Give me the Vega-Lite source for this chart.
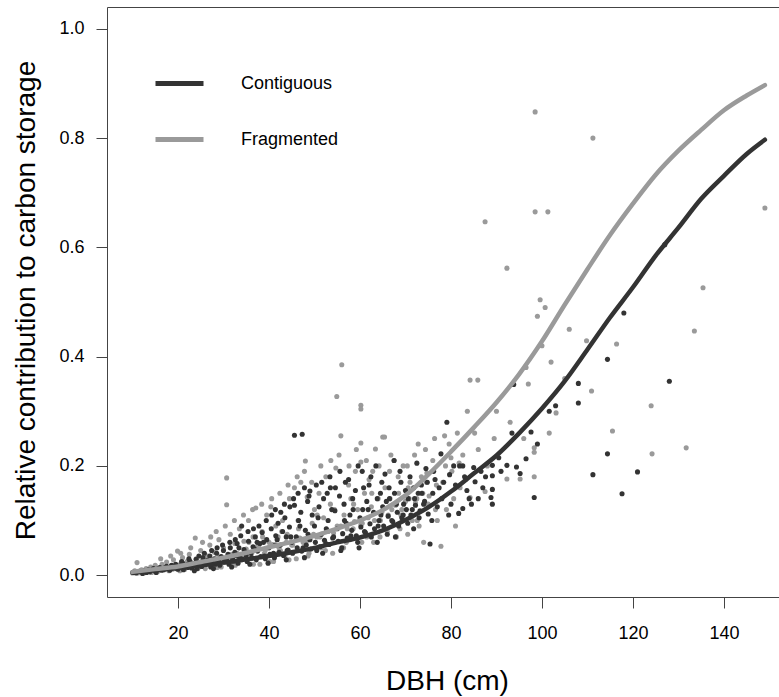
{
"$schema": "https://vega.github.io/schema/vega-lite/v6.json",
"width": 672, "height": 590,
"autosize": "none",
"padding": {"left": 107, "top": 7, "right": 0, "bottom": 100},
"config": {"view": {"stroke": null}, "font": "Liberation Sans", "background": "white"},
"datasets": {
"fit": [
{"x":10,"y":0.005,"g":"C"},{"x":15,"y":0.009,"g":"C"},{"x":20,"y":0.013,"g":"C"},{"x":25,"y":0.018,"g":"C"},{"x":30,"y":0.023,"g":"C"},{"x":35,"y":0.029,"g":"C"},{"x":40,"y":0.035,"g":"C"},{"x":45,"y":0.042,"g":"C"},{"x":50,"y":0.050,"g":"C"},{"x":55,"y":0.060,"g":"C"},{"x":60,"y":0.069,"g":"C"},{"x":65,"y":0.082,"g":"C"},{"x":70,"y":0.101,"g":"C"},{"x":75,"y":0.124,"g":"C"},{"x":80,"y":0.153,"g":"C"},{"x":85,"y":0.186,"g":"C"},{"x":90,"y":0.219,"g":"C"},{"x":95,"y":0.260,"g":"C"},{"x":100,"y":0.305,"g":"C"},{"x":105,"y":0.355,"g":"C"},{"x":110,"y":0.413,"g":"C"},{"x":115,"y":0.472,"g":"C"},{"x":120,"y":0.527,"g":"C"},{"x":125,"y":0.585,"g":"C"},{"x":130,"y":0.636,"g":"C"},{"x":135,"y":0.689,"g":"C"},{"x":140,"y":0.731,"g":"C"},{"x":145,"y":0.771,"g":"C"},{"x":149,"y":0.797,"g":"C"},
{"x":10,"y":0.006,"g":"F"},{"x":15,"y":0.011,"g":"F"},{"x":20,"y":0.016,"g":"F"},{"x":25,"y":0.024,"g":"F"},{"x":30,"y":0.032,"g":"F"},{"x":35,"y":0.041,"g":"F"},{"x":40,"y":0.051,"g":"F"},{"x":45,"y":0.061,"g":"F"},{"x":50,"y":0.072,"g":"F"},{"x":55,"y":0.085,"g":"F"},{"x":60,"y":0.100,"g":"F"},{"x":65,"y":0.119,"g":"F"},{"x":70,"y":0.146,"g":"F"},{"x":75,"y":0.184,"g":"F"},{"x":80,"y":0.226,"g":"F"},{"x":85,"y":0.270,"g":"F"},{"x":90,"y":0.316,"g":"F"},{"x":95,"y":0.368,"g":"F"},{"x":100,"y":0.428,"g":"F"},{"x":105,"y":0.495,"g":"F"},{"x":110,"y":0.560,"g":"F"},{"x":115,"y":0.623,"g":"F"},{"x":120,"y":0.680,"g":"F"},{"x":125,"y":0.733,"g":"F"},{"x":130,"y":0.777,"g":"F"},{"x":135,"y":0.815,"g":"F"},{"x":140,"y":0.851,"g":"F"},{"x":145,"y":0.878,"g":"F"},{"x":149,"y":0.897,"g":"F"}
],
"pts": [
{"x":10,"y":0.004,"g":"F"},{"x":10.5,"y":0.008,"g":"F"},{"x":11,"y":0.023,"g":"F"},{"x":11.5,"y":0.006,"g":"F"},{"x":12,"y":0.01,"g":"F"},{"x":12.5,"y":0.004,"g":"F"},{"x":13,"y":0.012,"g":"F"},{"x":13.5,"y":0.007,"g":"F"},{"x":14,"y":0.015,"g":"F"},{"x":14.5,"y":0.009,"g":"F"},{"x":15,"y":0.018,"g":"F"},{"x":15.5,"y":0.006,"g":"F"},{"x":16,"y":0.013,"g":"F"},{"x":16.5,"y":0.02,"g":"F"},{"x":17,"y":0.01,"g":"F"},{"x":17.5,"y":0.024,"g":"F"},{"x":18,"y":0.008,"g":"F"},{"x":18.5,"y":0.017,"g":"F"},{"x":19,"y":0.028,"g":"F"},{"x":19.5,"y":0.012,"g":"F"},{"x":19.9,"y":0.044,"g":"F"},{"x":20.5,"y":0.02,"g":"F"},{"x":21,"y":0.032,"g":"F"},{"x":21.5,"y":0.011,"g":"F"},{"x":22,"y":0.025,"g":"F"},{"x":22.5,"y":0.038,"g":"F"},{"x":23,"y":0.015,"g":"F"},{"x":23.8,"y":0.068,"g":"F"},{"x":24,"y":0.03,"g":"F"},{"x":24.5,"y":0.018,"g":"F"},{"x":25,"y":0.045,"g":"F"},{"x":25.5,"y":0.025,"g":"F"},{"x":26,"y":0.012,"g":"F"},{"x":26.5,"y":0.035,"g":"F"},{"x":27,"y":0.055,"g":"F"},{"x":27.5,"y":0.02,"g":"F"},{"x":28,"y":0.042,"g":"F"},{"x":28.5,"y":0.03,"g":"F"},{"x":29,"y":0.065,"g":"F"},{"x":29.5,"y":0.015,"g":"F"},{"x":30,"y":0.05,"g":"F"},{"x":30.7,"y":0.178,"g":"F"},{"x":30.7,"y":0.129,"g":"F"},{"x":31,"y":0.035,"g":"F"},{"x":31.5,"y":0.075,"g":"F"},{"x":32,"y":0.022,"g":"F"},{"x":32.5,"y":0.058,"g":"F"},{"x":33,"y":0.04,"g":"F"},{"x":33.5,"y":0.085,"g":"F"},{"x":34,"y":0.028,"g":"F"},{"x":34.5,"y":0.062,"g":"F"},{"x":35,"y":0.048,"g":"F"},{"x":35.5,"y":0.1,"g":"F"},{"x":36,"y":0.03,"g":"F"},{"x":36.5,"y":0.07,"g":"F"},{"x":37.1,"y":0.123,"g":"F"},{"x":37.5,"y":0.052,"g":"F"},{"x":38,"y":0.02,"g":"F"},{"x":38.5,"y":0.08,"g":"F"},{"x":39,"y":0.04,"g":"F"},{"x":39.5,"y":0.11,"g":"F"},{"x":40,"y":0.06,"g":"F"},{"x":40.4,"y":0.125,"g":"F"},{"x":41,"y":0.025,"g":"F"},{"x":41.5,"y":0.09,"g":"F"},{"x":42,"y":0.07,"g":"F"},{"x":42.5,"y":0.045,"g":"F"},{"x":43,"y":0.1,"g":"F"},{"x":43.5,"y":0.035,"g":"F"},{"x":44,"y":0.075,"g":"F"},{"x":44.5,"y":0.14,"g":"F"},{"x":45,"y":0.055,"g":"F"},{"x":45.6,"y":0.16,"g":"F"},{"x":46,"y":0.03,"g":"F"},{"x":46.5,"y":0.085,"g":"F"},{"x":47,"y":0.17,"g":"F"},{"x":47.5,"y":0.06,"g":"F"},{"x":48,"y":0.209,"g":"F"},{"x":48.4,"y":0.143,"g":"F"},{"x":48.8,"y":0.04,"g":"F"},{"x":49.5,"y":0.095,"g":"F"},{"x":50,"y":0.12,"g":"F"},{"x":50.5,"y":0.07,"g":"F"},{"x":51,"y":0.15,"g":"F"},{"x":51.5,"y":0.05,"g":"F"},{"x":52,"y":0.105,"g":"F"},{"x":52.5,"y":0.18,"g":"F"},{"x":53,"y":0.08,"g":"F"},{"x":53.5,"y":0.13,"g":"F"},{"x":54,"y":0.04,"g":"F"},{"x":54.7,"y":0.196,"g":"F"},{"x":54.9,"y":0.327,"g":"F"},{"x":55,"y":0.09,"g":"F"},{"x":55.8,"y":0.255,"g":"F"},{"x":56,"y":0.385,"g":"F"},{"x":56.5,"y":0.11,"g":"F"},{"x":57,"y":0.06,"g":"F"},{"x":57.5,"y":0.165,"g":"F"},{"x":58,"y":0.14,"g":"F"},{"x":58.5,"y":0.085,"g":"F"},{"x":59,"y":0.19,"g":"F"},{"x":59.5,"y":0.12,"g":"F"},{"x":60.2,"y":0.311,"g":"F"},{"x":60.2,"y":0.304,"g":"F"},{"x":60.2,"y":0.242,"g":"F"},{"x":60.2,"y":0.207,"g":"F"},{"x":60.5,"y":0.095,"g":"F"},{"x":61,"y":0.15,"g":"F"},{"x":61.5,"y":0.07,"g":"F"},{"x":62,"y":0.175,"g":"F"},{"x":62.5,"y":0.125,"g":"F"},{"x":63,"y":0.06,"g":"F"},{"x":63.4,"y":0.231,"g":"F"},{"x":64,"y":0.14,"g":"F"},{"x":64.5,"y":0.1,"g":"F"},{"x":65,"y":0.253,"g":"F"},{"x":65.4,"y":0.253,"g":"F"},{"x":65.5,"y":0.16,"g":"F"},{"x":66,"y":0.08,"g":"F"},{"x":66.5,"y":0.19,"g":"F"},{"x":67,"y":0.12,"g":"F"},{"x":67.5,"y":0.21,"g":"F"},{"x":68,"y":0.07,"g":"F"},{"x":68.5,"y":0.15,"g":"F"},{"x":69,"y":0.11,"g":"F"},{"x":69.5,"y":0.2,"g":"F"},{"x":70,"y":0.135,"g":"F"},{"x":70.5,"y":0.075,"g":"F"},{"x":71,"y":0.17,"g":"F"},{"x":71.5,"y":0.1,"g":"F"},{"x":72,"y":0.22,"g":"F"},{"x":72.5,"y":0.14,"g":"F"},{"x":73,"y":0.09,"g":"F"},{"x":73.5,"y":0.18,"g":"F"},{"x":74,"y":0.06,"g":"F"},{"x":74.7,"y":0.187,"g":"F"},{"x":75,"y":0.13,"g":"F"},{"x":76,"y":0.21,"g":"F"},{"x":77,"y":0.1,"g":"F"},{"x":77.8,"y":0.053,"g":"F"},{"x":78.6,"y":0.255,"g":"F"},{"x":79,"y":0.12,"g":"F"},{"x":80,"y":0.215,"g":"F"},{"x":81,"y":0.09,"g":"F"},{"x":82,"y":0.16,"g":"F"},{"x":84.2,"y":0.357,"g":"F"},{"x":85.9,"y":0.357,"g":"F"},{"x":84.2,"y":0.142,"g":"F"},{"x":86,"y":0.23,"g":"F"},{"x":87.5,"y":0.153,"g":"F"},{"x":87.5,"y":0.647,"g":"F"},{"x":88,"y":0.2,"g":"F"},{"x":89.5,"y":0.25,"g":"F"},{"x":92.3,"y":0.562,"g":"F"},{"x":92.3,"y":0.176,"g":"F"},{"x":95.2,"y":0.176,"g":"F"},{"x":96,"y":0.25,"g":"F"},{"x":97,"y":0.35,"g":"F"},{"x":98.3,"y":0.18,"g":"F"},{"x":98.3,"y":0.233,"g":"F"},{"x":98.3,"y":0.225,"g":"F"},{"x":98.5,"y":0.848,"g":"F"},{"x":98.5,"y":0.665,"g":"F"},{"x":99,"y":0.474,"g":"F"},{"x":99.6,"y":0.504,"g":"F"},{"x":100.7,"y":0.49,"g":"F"},{"x":101.3,"y":0.665,"g":"F"},{"x":101.6,"y":0.26,"g":"F"},{"x":103.1,"y":0.297,"g":"F"},{"x":105,"y":0.36,"g":"F"},{"x":109.8,"y":0.429,"g":"F"},{"x":110.9,"y":0.337,"g":"F"},{"x":111.2,"y":0.8,"g":"F"},{"x":115.5,"y":0.264,"g":"F"},{"x":116.4,"y":0.423,"g":"F"},{"x":124,"y":0.31,"g":"F"},{"x":124.2,"y":0.222,"g":"F"},{"x":131.7,"y":0.233,"g":"F"},{"x":133.5,"y":0.447,"g":"F"},{"x":135.4,"y":0.526,"g":"F"},{"x":149,"y":0.672,"g":"F"},
{"x":11.2,"y":0.004,"g":"F"},{"x":12.8,"y":0.007,"g":"F"},{"x":14.2,"y":0.005,"g":"F"},{"x":15.8,"y":0.01,"g":"F"},{"x":17.2,"y":0.013,"g":"F"},{"x":18.8,"y":0.011,"g":"F"},{"x":20.2,"y":0.015,"g":"F"},{"x":21.8,"y":0.018,"g":"F"},{"x":23.2,"y":0.022,"g":"F"},{"x":24.8,"y":0.019,"g":"F"},{"x":26.2,"y":0.027,"g":"F"},{"x":27.8,"y":0.024,"g":"F"},{"x":29.2,"y":0.033,"g":"F"},{"x":30.2,"y":0.028,"g":"F"},{"x":31.8,"y":0.038,"g":"F"},{"x":33.2,"y":0.034,"g":"F"},{"x":34.8,"y":0.045,"g":"F"},{"x":36.2,"y":0.04,"g":"F"},{"x":37.8,"y":0.05,"g":"F"},{"x":39.2,"y":0.046,"g":"F"},{"x":40.8,"y":0.056,"g":"F"},{"x":42.2,"y":0.05,"g":"F"},{"x":43.8,"y":0.06,"g":"F"},{"x":45.2,"y":0.055,"g":"F"},{"x":46.8,"y":0.068,"g":"F"},{"x":48.2,"y":0.062,"g":"F"},{"x":49.8,"y":0.075,"g":"F"},{"x":51.2,"y":0.07,"g":"F"},{"x":52.8,"y":0.082,"g":"F"},{"x":54.2,"y":0.077,"g":"F"},{"x":55.8,"y":0.09,"g":"F"},{"x":57.2,"y":0.085,"g":"F"},{"x":58.8,"y":0.098,"g":"F"},{"x":60.2,"y":0.092,"g":"F"},{"x":61.8,"y":0.105,"g":"F"},{"x":63.2,"y":0.1,"g":"F"},{"x":64.8,"y":0.115,"g":"F"},{"x":66.2,"y":0.11,"g":"F"},{"x":67.8,"y":0.128,"g":"F"},{"x":69.2,"y":0.12,"g":"F"},{"x":70.8,"y":0.14,"g":"F"},{"x":72.2,"y":0.132,"g":"F"},{"x":73.8,"y":0.15,"g":"F"},{"x":75.2,"y":0.145,"g":"F"},{"x":76.8,"y":0.165,"g":"F"},{"x":78.2,"y":0.17,"g":"F"},{"x":80.2,"y":0.19,"g":"F"},{"x":81.8,"y":0.205,"g":"F"},{"x":83.2,"y":0.175,"g":"F"},{"x":85.2,"y":0.26,"g":"F"},{"x":90,"y":0.3,"g":"F"},{"x":93,"y":0.28,"g":"F"},{"x":96.5,"y":0.38,"g":"F"},{"x":100,"y":0.42,"g":"F"},{"x":102,"y":0.39,"g":"F"},{"x":106,"y":0.45,"g":"F"},
{"x":16.2,"y":0.03,"g":"F"},{"x":18.4,"y":0.035,"g":"F"},{"x":20.6,"y":0.04,"g":"F"},{"x":22.8,"y":0.05,"g":"F"},{"x":25.4,"y":0.06,"g":"F"},{"x":27.2,"y":0.07,"g":"F"},{"x":28.4,"y":0.08,"g":"F"},{"x":30.4,"y":0.09,"g":"F"},{"x":32.4,"y":0.1,"g":"F"},{"x":34.4,"y":0.11,"g":"F"},{"x":36.4,"y":0.12,"g":"F"},{"x":38.4,"y":0.13,"g":"F"},{"x":40.6,"y":0.14,"g":"F"},{"x":42.4,"y":0.15,"g":"F"},{"x":44.2,"y":0.165,"g":"F"},{"x":46.2,"y":0.18,"g":"F"},{"x":47.8,"y":0.19,"g":"F"},{"x":49.4,"y":0.17,"g":"F"},{"x":51.4,"y":0.2,"g":"F"},{"x":53.6,"y":0.21,"g":"F"},{"x":55.4,"y":0.22,"g":"F"},{"x":57.6,"y":0.2,"g":"F"},{"x":59.2,"y":0.23,"g":"F"},{"x":61.4,"y":0.21,"g":"F"},{"x":62.8,"y":0.19,"g":"F"},{"x":64.2,"y":0.2,"g":"F"},{"x":66.8,"y":0.22,"g":"F"},{"x":68.4,"y":0.18,"g":"F"},{"x":70.4,"y":0.2,"g":"F"},{"x":72.8,"y":0.24,"g":"F"},{"x":74.4,"y":0.23,"g":"F"},{"x":76.4,"y":0.25,"g":"F"},{"x":79.6,"y":0.24,"g":"F"},{"x":81.4,"y":0.26,"g":"F"},{"x":83.6,"y":0.3,"g":"F"},{"x":20.4,"y":0.008,"g":"F"},{"x":24.4,"y":0.012,"g":"F"},{"x":28.6,"y":0.014,"g":"F"},{"x":32.6,"y":0.018,"g":"F"},{"x":36.6,"y":0.02,"g":"F"},{"x":40.2,"y":0.025,"g":"F"},{"x":44.4,"y":0.028,"g":"F"},{"x":48.6,"y":0.035,"g":"F"},{"x":52.4,"y":0.045,"g":"F"},{"x":56.4,"y":0.05,"g":"F"},{"x":60.4,"y":0.06,"g":"F"},{"x":64.4,"y":0.07,"g":"F"},{"x":68.8,"y":0.085,"g":"F"},{"x":72.6,"y":0.1,"g":"F"},{"x":76.6,"y":0.12,"g":"F"},{"x":80.6,"y":0.14,"g":"F"},{"x":35.6,"y":0.06,"g":"F"},{"x":38.6,"y":0.07,"g":"F"},{"x":42.8,"y":0.08,"g":"F"},{"x":46.4,"y":0.1,"g":"F"},{"x":50.6,"y":0.11,"g":"F"},{"x":54.4,"y":0.12,"g":"F"},{"x":58.6,"y":0.13,"g":"F"},{"x":62.6,"y":0.15,"g":"F"},{"x":66.6,"y":0.14,"g":"F"},{"x":70.6,"y":0.16,"g":"F"},{"x":74.6,"y":0.17,"g":"F"},{"x":78.8,"y":0.2,"g":"F"},{"x":82.6,"y":0.22,"g":"F"},
{"x":10.2,"y":0.005,"g":"C"},{"x":10.8,"y":0.004,"g":"C"},{"x":11.5,"y":0.007,"g":"C"},{"x":12,"y":0.006,"g":"C"},{"x":12.6,"y":0.008,"g":"C"},{"x":13.1,"y":0.005,"g":"C"},{"x":13.5,"y":0.01,"g":"C"},{"x":14,"y":0.009,"g":"C"},{"x":14.6,"y":0.012,"g":"C"},{"x":15,"y":0.008,"g":"C"},{"x":15.5,"y":0.011,"g":"C"},{"x":16,"y":0.014,"g":"C"},{"x":16.4,"y":0.009,"g":"C"},{"x":17,"y":0.013,"g":"C"},{"x":17.5,"y":0.016,"g":"C"},{"x":18,"y":0.012,"g":"C"},{"x":18.6,"y":0.018,"g":"C"},{"x":19,"y":0.014,"g":"C"},{"x":19.5,"y":0.02,"g":"C"},{"x":20,"y":0.011,"g":"C"},{"x":20.5,"y":0.017,"g":"C"},{"x":21,"y":0.022,"g":"C"},{"x":21.5,"y":0.015,"g":"C"},{"x":22,"y":0.019,"g":"C"},{"x":22.6,"y":0.026,"g":"C"},{"x":23,"y":0.013,"g":"C"},{"x":23.5,"y":0.021,"g":"C"},{"x":24,"y":0.029,"g":"C"},{"x":24.5,"y":0.018,"g":"C"},{"x":25,"y":0.024,"g":"C"},{"x":25.5,"y":0.032,"g":"C"},{"x":26,"y":0.02,"g":"C"},{"x":26.5,"y":0.027,"g":"C"},{"x":27,"y":0.035,"g":"C"},{"x":27.5,"y":0.022,"g":"C"},{"x":28,"y":0.03,"g":"C"},{"x":28.5,"y":0.04,"g":"C"},{"x":29,"y":0.025,"g":"C"},{"x":29.5,"y":0.034,"g":"C"},{"x":30,"y":0.045,"g":"C"},{"x":30.5,"y":0.028,"g":"C"},{"x":31,"y":0.038,"g":"C"},{"x":31.5,"y":0.05,"g":"C"},{"x":32,"y":0.03,"g":"C"},{"x":32.5,"y":0.042,"g":"C"},{"x":33,"y":0.058,"g":"C"},{"x":33.5,"y":0.033,"g":"C"},{"x":34,"y":0.09,"g":"C"},{"x":34.5,"y":0.047,"g":"C"},{"x":35,"y":0.036,"g":"C"},{"x":35.5,"y":0.062,"g":"C"},{"x":36,"y":0.04,"g":"C"},{"x":36.5,"y":0.052,"g":"C"},{"x":37,"y":0.07,"g":"C"},{"x":37.5,"y":0.044,"g":"C"},{"x":38,"y":0.058,"g":"C"},{"x":38.5,"y":0.078,"g":"C"},{"x":39,"y":0.035,"g":"C"},{"x":39.5,"y":0.065,"g":"C"},{"x":40,"y":0.05,"g":"C"},{"x":40.5,"y":0.085,"g":"C"},{"x":41,"y":0.04,"g":"C"},{"x":41.5,"y":0.072,"g":"C"},{"x":42,"y":0.095,"g":"C"},{"x":42.5,"y":0.055,"g":"C"},{"x":43,"y":0.08,"g":"C"},{"x":43.5,"y":0.105,"g":"C"},{"x":44,"y":0.045,"g":"C"},{"x":44.5,"y":0.088,"g":"C"},{"x":45,"y":0.06,"g":"C"},{"x":45.6,"y":0.128,"g":"C"},{"x":45.6,"y":0.256,"g":"C"},{"x":46,"y":0.07,"g":"C"},{"x":46.5,"y":0.1,"g":"C"},{"x":47,"y":0.115,"g":"C"},{"x":47.3,"y":0.258,"g":"C"},{"x":47.5,"y":0.05,"g":"C"},{"x":48,"y":0.082,"g":"C"},{"x":48.5,"y":0.135,"g":"C"},{"x":49,"y":0.154,"g":"C"},{"x":49,"y":0.065,"g":"C"},{"x":49.5,"y":0.11,"g":"C"},{"x":50,"y":0.09,"g":"C"},{"x":50.5,"y":0.045,"g":"C"},{"x":51,"y":0.125,"g":"C"},{"x":51.5,"y":0.075,"g":"C"},{"x":52,"y":0.14,"g":"C"},{"x":52.5,"y":0.058,"g":"C"},{"x":53,"y":0.1,"g":"C"},{"x":53.5,"y":0.16,"g":"C"},{"x":54,"y":0.068,"g":"C"},{"x":54.5,"y":0.118,"g":"C"},{"x":55,"y":0.085,"g":"C"},{"x":55.5,"y":0.145,"g":"C"},{"x":56,"y":0.05,"g":"C"},{"x":56.5,"y":0.13,"g":"C"},{"x":57,"y":0.095,"g":"C"},{"x":57.5,"y":0.175,"g":"C"},{"x":58,"y":0.072,"g":"C"},{"x":58.5,"y":0.12,"g":"C"},{"x":59,"y":0.155,"g":"C"},{"x":59.5,"y":0.06,"g":"C"},{"x":60,"y":0.105,"g":"C"},{"x":60.5,"y":0.19,"g":"C"},{"x":61,"y":0.08,"g":"C"},{"x":61.5,"y":0.135,"g":"C"},{"x":62,"y":0.165,"g":"C"},{"x":62.5,"y":0.07,"g":"C"},{"x":63,"y":0.115,"g":"C"},{"x":63.5,"y":0.2,"g":"C"},{"x":64,"y":0.09,"g":"C"},{"x":64.5,"y":0.15,"g":"C"},{"x":65,"y":0.125,"g":"C"},{"x":65.5,"y":0.185,"g":"C"},{"x":66,"y":0.075,"g":"C"},{"x":66.5,"y":0.14,"g":"C"},{"x":67,"y":0.1,"g":"C"},{"x":67.5,"y":0.21,"g":"C"},{"x":68,"y":0.13,"g":"C"},{"x":68.5,"y":0.09,"g":"C"},{"x":69,"y":0.17,"g":"C"},{"x":69.5,"y":0.11,"g":"C"},{"x":70,"y":0.155,"g":"C"},{"x":70.5,"y":0.095,"g":"C"},{"x":71,"y":0.18,"g":"C"},{"x":71.5,"y":0.12,"g":"C"},{"x":72,"y":0.14,"g":"C"},{"x":72.5,"y":0.205,"g":"C"},{"x":73,"y":0.105,"g":"C"},{"x":73.5,"y":0.165,"g":"C"},{"x":74,"y":0.13,"g":"C"},{"x":74.5,"y":0.195,"g":"C"},{"x":75,"y":0.112,"g":"C"},{"x":75.4,"y":0.057,"g":"C"},{"x":76,"y":0.15,"g":"C"},{"x":76.5,"y":0.175,"g":"C"},{"x":77,"y":0.125,"g":"C"},{"x":77.8,"y":0.222,"g":"C"},{"x":78,"y":0.14,"g":"C"},{"x":79.1,"y":0.28,"g":"C"},{"x":79.7,"y":0.184,"g":"C"},{"x":80,"y":0.13,"g":"C"},{"x":81,"y":0.165,"g":"C"},{"x":81.7,"y":0.113,"g":"C"},{"x":81.9,"y":0.2,"g":"C"},{"x":82.6,"y":0.2,"g":"C"},{"x":82.6,"y":0.122,"g":"C"},{"x":83.5,"y":0.155,"g":"C"},{"x":85,"y":0.197,"g":"C"},{"x":85.3,"y":0.171,"g":"C"},{"x":86,"y":0.14,"g":"C"},{"x":87,"y":0.16,"g":"C"},{"x":89.1,"y":0.182,"g":"C"},{"x":89.1,"y":0.157,"g":"C"},{"x":89.1,"y":0.13,"g":"C"},{"x":88.8,"y":0.142,"g":"C"},{"x":89.1,"y":0.201,"g":"C"},{"x":90.5,"y":0.215,"g":"C"},{"x":92.3,"y":0.201,"g":"C"},{"x":93.4,"y":0.26,"g":"C"},{"x":93.8,"y":0.349,"g":"C"},{"x":94.4,"y":0.198,"g":"C"},{"x":95.2,"y":0.186,"g":"C"},{"x":96.5,"y":0.213,"g":"C"},{"x":97.6,"y":0.262,"g":"C"},{"x":98.3,"y":0.142,"g":"C"},{"x":99,"y":0.24,"g":"C"},{"x":101.6,"y":0.3,"g":"C"},{"x":103,"y":0.31,"g":"C"},{"x":108,"y":0.351,"g":"C"},{"x":108,"y":0.315,"g":"C"},{"x":111.2,"y":0.184,"g":"C"},{"x":114.4,"y":0.395,"g":"C"},{"x":114.4,"y":0.222,"g":"C"},{"x":117.6,"y":0.149,"g":"C"},{"x":118,"y":0.48,"g":"C"},{"x":121,"y":0.189,"g":"C"},{"x":127,"y":0.605,"g":"C"},{"x":128,"y":0.355,"g":"C"},
{"x":12.2,"y":0.003,"g":"C"},{"x":13.8,"y":0.006,"g":"C"},{"x":15.2,"y":0.005,"g":"C"},{"x":16.8,"y":0.01,"g":"C"},{"x":18.2,"y":0.009,"g":"C"},{"x":19.8,"y":0.012,"g":"C"},{"x":21.2,"y":0.01,"g":"C"},{"x":22.2,"y":0.014,"g":"C"},{"x":23.2,"y":0.018,"g":"C"},{"x":24.2,"y":0.012,"g":"C"},{"x":25.2,"y":0.016,"g":"C"},{"x":26.2,"y":0.022,"g":"C"},{"x":27.2,"y":0.015,"g":"C"},{"x":28.2,"y":0.02,"g":"C"},{"x":29.2,"y":0.018,"g":"C"},{"x":30.2,"y":0.024,"g":"C"},{"x":31.2,"y":0.02,"g":"C"},{"x":32.2,"y":0.026,"g":"C"},{"x":33.2,"y":0.022,"g":"C"},{"x":34.2,"y":0.03,"g":"C"},{"x":35.2,"y":0.025,"g":"C"},{"x":36.2,"y":0.032,"g":"C"},{"x":37.2,"y":0.028,"g":"C"},{"x":38.2,"y":0.034,"g":"C"},{"x":39.2,"y":0.03,"g":"C"},{"x":40.2,"y":0.038,"g":"C"},{"x":41.2,"y":0.032,"g":"C"},{"x":42.2,"y":0.042,"g":"C"},{"x":43.2,"y":0.036,"g":"C"},{"x":44.2,"y":0.046,"g":"C"},{"x":45.2,"y":0.04,"g":"C"},{"x":46.2,"y":0.05,"g":"C"},{"x":47.2,"y":0.044,"g":"C"},{"x":48.2,"y":0.055,"g":"C"},{"x":49.2,"y":0.048,"g":"C"},{"x":50.2,"y":0.06,"g":"C"},{"x":51.2,"y":0.052,"g":"C"},{"x":52.2,"y":0.064,"g":"C"},{"x":53.2,"y":0.056,"g":"C"},{"x":54.2,"y":0.07,"g":"C"},{"x":55.2,"y":0.062,"g":"C"},{"x":56.2,"y":0.076,"g":"C"},{"x":57.2,"y":0.068,"g":"C"},{"x":58.2,"y":0.082,"g":"C"},{"x":59.2,"y":0.072,"g":"C"},{"x":60.2,"y":0.088,"g":"C"},{"x":61.2,"y":0.078,"g":"C"},{"x":62.2,"y":0.094,"g":"C"},{"x":63.2,"y":0.085,"g":"C"},{"x":64.2,"y":0.1,"g":"C"},{"x":65.2,"y":0.09,"g":"C"},{"x":66.2,"y":0.108,"g":"C"},{"x":67.2,"y":0.098,"g":"C"},{"x":68.2,"y":0.115,"g":"C"},{"x":69.2,"y":0.105,"g":"C"},{"x":70.2,"y":0.12,"g":"C"},{"x":71.2,"y":0.11,"g":"C"},{"x":72.2,"y":0.128,"g":"C"},{"x":73.2,"y":0.118,"g":"C"},{"x":74.2,"y":0.135,"g":"C"},{"x":41.8,"y":0.065,"g":"C"},{"x":43.8,"y":0.07,"g":"C"},{"x":46.8,"y":0.09,"g":"C"},{"x":50.8,"y":0.105,"g":"C"},{"x":53.8,"y":0.12,"g":"C"},{"x":57.8,"y":0.11,"g":"C"},{"x":61.8,"y":0.12,"g":"C"},{"x":65.8,"y":0.135,"g":"C"},{"x":38.8,"y":0.06,"g":"C"},{"x":36.8,"y":0.048,"g":"C"},{"x":34.8,"y":0.042,"g":"C"},{"x":32.8,"y":0.036,"g":"C"},{"x":30.8,"y":0.032,"g":"C"},{"x":28.8,"y":0.027,"g":"C"},{"x":26.8,"y":0.024,"g":"C"},{"x":24.8,"y":0.02,"g":"C"},{"x":22.8,"y":0.016,"g":"C"},
{"x":20.8,"y":0.025,"g":"C"},{"x":22.4,"y":0.03,"g":"C"},{"x":24.6,"y":0.035,"g":"C"},{"x":25.8,"y":0.04,"g":"C"},{"x":27.4,"y":0.045,"g":"C"},{"x":28.6,"y":0.05,"g":"C"},{"x":29.8,"y":0.055,"g":"C"},{"x":31.4,"y":0.06,"g":"C"},{"x":32.6,"y":0.065,"g":"C"},{"x":33.8,"y":0.072,"g":"C"},{"x":35.4,"y":0.08,"g":"C"},{"x":36.6,"y":0.085,"g":"C"},{"x":37.8,"y":0.09,"g":"C"},{"x":39.4,"y":0.1,"g":"C"},{"x":40.6,"y":0.11,"g":"C"},{"x":41.4,"y":0.12,"g":"C"},{"x":42.6,"y":0.115,"g":"C"},{"x":43.4,"y":0.13,"g":"C"},{"x":44.6,"y":0.125,"g":"C"},{"x":45.4,"y":0.14,"g":"C"},{"x":46.4,"y":0.15,"g":"C"},{"x":47.8,"y":0.16,"g":"C"},{"x":48.8,"y":0.145,"g":"C"},{"x":50.4,"y":0.165,"g":"C"},{"x":51.6,"y":0.17,"g":"C"},{"x":52.8,"y":0.15,"g":"C"},{"x":53.4,"y":0.18,"g":"C"},{"x":54.6,"y":0.16,"g":"C"},{"x":55.6,"y":0.19,"g":"C"},{"x":56.8,"y":0.17,"g":"C"},{"x":58.4,"y":0.14,"g":"C"},{"x":59.6,"y":0.2,"g":"C"},{"x":60.8,"y":0.16,"g":"C"},{"x":62.4,"y":0.18,"g":"C"},{"x":63.8,"y":0.14,"g":"C"},{"x":64.8,"y":0.17,"g":"C"},{"x":66.4,"y":0.16,"g":"C"},{"x":67.6,"y":0.15,"g":"C"},{"x":68.8,"y":0.19,"g":"C"},{"x":70.6,"y":0.14,"g":"C"},{"x":71.8,"y":0.16,"g":"C"},{"x":73.6,"y":0.15,"g":"C"},{"x":74.8,"y":0.17,"g":"C"},{"x":76.2,"y":0.19,"g":"C"},{"x":78.4,"y":0.17,"g":"C"},{"x":80.6,"y":0.2,"g":"C"},{"x":83,"y":0.18,"g":"C"},{"x":84,"y":0.14,"g":"C"},{"x":86.6,"y":0.19,"g":"C"},{"x":87.6,"y":0.18,"g":"C"},{"x":91,"y":0.19,"g":"C"},{"x":23.6,"y":0.008,"g":"C"},{"x":27.8,"y":0.012,"g":"C"},{"x":31.8,"y":0.015,"g":"C"},{"x":35.8,"y":0.02,"g":"C"},{"x":39.8,"y":0.022,"g":"C"},{"x":43.8,"y":0.028,"g":"C"},{"x":47.8,"y":0.032,"g":"C"},{"x":51.8,"y":0.04,"g":"C"},{"x":55.8,"y":0.045,"g":"C"},{"x":59.8,"y":0.05,"g":"C"},{"x":63.8,"y":0.06,"g":"C"},{"x":67.8,"y":0.07,"g":"C"},{"x":71.8,"y":0.085,"g":"C"},{"x":75.8,"y":0.1,"g":"C"},{"x":79.5,"y":0.11,"g":"C"},{"x":84.5,"y":0.13,"g":"C"},{"x":33.4,"y":0.05,"g":"C"},{"x":37.4,"y":0.06,"g":"C"},{"x":41.4,"y":0.055,"g":"C"},{"x":44.8,"y":0.07,"g":"C"},{"x":48.6,"y":0.075,"g":"C"},{"x":52.6,"y":0.085,"g":"C"},{"x":56.6,"y":0.1,"g":"C"},{"x":60.6,"y":0.12,"g":"C"},{"x":64.6,"y":0.11,"g":"C"},{"x":69.6,"y":0.13,"g":"C"},{"x":72.8,"y":0.15,"g":"C"},{"x":77.4,"y":0.16,"g":"C"}
]
},
"resolve": {"axis": {"x": "independent"}, "legend": {"color": "independent"}},
"layer": [
{
"data": {"name": "pts"},
"mark": {"type": "circle", "size": 26, "opacity": 1},
"encoding": {
"x": {"field": "x", "type": "quantitative",
"scale": {"domain": [4.4, 152.1], "nice": false, "zero": false},
"axis": {"orient": "bottom", "values": [20, 40, 60, 80, 100, 120, 140], "title": "DBH (cm)",
"domainColor": "#444", "tickColor": "#444", "tickSize": 11, "labelFontSize": 18, "labelColor": "#000", "labelPadding": 16,
"titleFontSize": 28, "titleFontWeight": "normal", "titleColor": "#000", "titleX": 340, "titleY": 92, "titleBaseline": "alphabetic", "titleAlign": "center", "grid": false, "labelFont": "Liberation Sans", "titleFont": "Liberation Sans"}},
"y": {"field": "y", "type": "quantitative",
"scale": {"domain": [-0.04, 1.04], "nice": false, "zero": false},
"axis": {"values": [0, 0.2, 0.4, 0.6, 0.8, 1.0], "format": ".1f", "title": "Relative contribution to carbon storage",
"domainColor": "#444", "tickColor": "#444", "tickSize": 11, "labelFontSize": 18, "labelColor": "#000", "labelPadding": 12,
"titleFontSize": 28, "titleFontWeight": "normal", "titleColor": "#000", "titleX": -73, "titleY": 293, "titleBaseline": "alphabetic", "titleAlign": "center", "titleAngle": 270, "grid": false, "labelFont": "Liberation Sans", "titleFont": "Liberation Sans"}},
"color": {"field": "g", "type": "nominal", "scale": {"domain": ["C", "F"], "range": ["#333333", "#9a9a9a"]}, "legend": null}
}
},
{
"data": {"name": "fit"},
"mark": {"type": "line", "strokeWidth": 4.5, "strokeCap": "round", "interpolate": "monotone"},
"encoding": {
"x": {"field": "x", "type": "quantitative",
"axis": {"orient": "top", "labels": false, "ticks": false, "domain": true, "domainColor": "#444", "title": null, "grid": false}},
"y": {"field": "y", "type": "quantitative"},
"color": {"field": "g", "type": "nominal",
"legend": {"orient": "none", "legendX": 46, "legendY": 50, "title": null, "symbolType": "stroke", "symbolSize": 2304, "symbolStrokeWidth": 5,
"labelFontSize": 18, "labelColor": "#000", "labelFont": "Liberation Sans", "labelOffset": 35, "rowPadding": 19, "padding": 0,
"labelExpr": "datum.label == 'C' ? 'Contiguous' : 'Fragmented'"}},
"order": {"field": "x", "type": "quantitative"}
}
}
]
}
